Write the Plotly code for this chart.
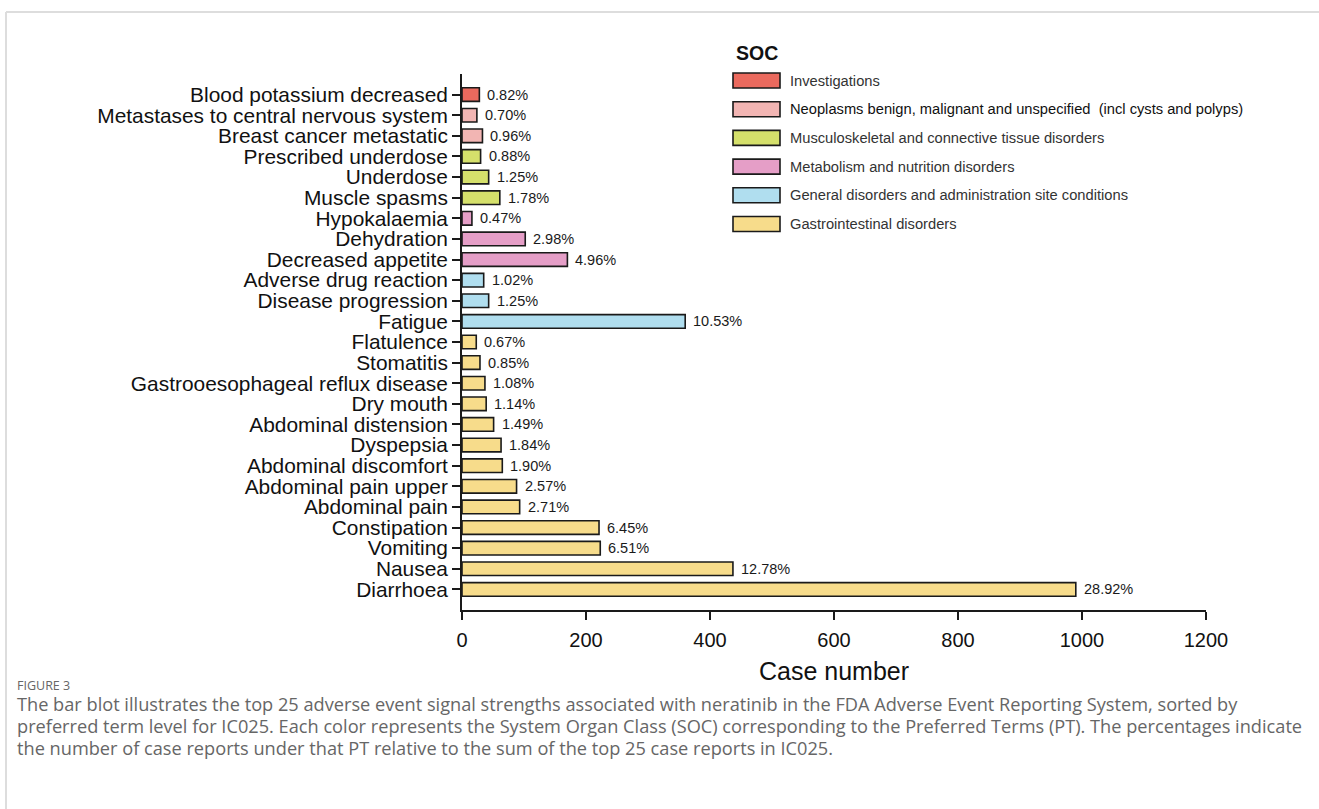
import plotly.graph_objects as go

# Preferred terms, bottom to top, with their SOC group, case counts and share of the top-25 total
terms = [
    "Diarrhoea", "Nausea", "Vomiting", "Constipation", "Abdominal pain",
    "Abdominal pain upper", "Abdominal discomfort", "Dyspepsia", "Abdominal distension",
    "Dry mouth", "Gastrooesophageal reflux disease", "Stomatitis", "Flatulence",
    "Fatigue", "Disease progression", "Adverse drug reaction",
    "Decreased appetite", "Dehydration", "Hypokalaemia",
    "Muscle spasms", "Underdose", "Prescribed underdose",
    "Breast cancer metastatic", "Metastases to central nervous system",
    "Blood potassium decreased",
]
soc_of_term = [
    "Gastrointestinal disorders"] * 13 + [
    "General disorders and administration site conditions"] * 3 + [
    "Metabolism and nutrition disorders"] * 3 + [
    "Musculoskeletal and connective tissue disorders"] * 3 + [
    "Neoplasms benign, malignant and unspecified  (incl cysts and polyps)"] * 2 + [
    "Investigations",
]
case_counts = [
    990, 437, 223, 221, 93,
    88, 65, 63, 51,
    39, 37, 29, 23,
    360, 43, 35,
    170, 102, 16,
    61, 43, 30,
    33, 24,
    28,
]
pct_labels = [
    "28.92%", "12.78%", "6.51%", "6.45%", "2.71%",
    "2.57%", "1.90%", "1.84%", "1.49%",
    "1.14%", "1.08%", "0.85%", "0.67%",
    "10.53%", "1.25%", "1.02%",
    "4.96%", "2.98%", "0.47%",
    "1.78%", "1.25%", "0.88%",
    "0.96%", "0.70%",
    "0.82%",
]

# SOC legend order (top to bottom) and fill colours
soc_names = [
    "Investigations",
    "Neoplasms benign, malignant and unspecified  (incl cysts and polyps)",
    "Musculoskeletal and connective tissue disorders",
    "Metabolism and nutrition disorders",
    "General disorders and administration site conditions",
    "Gastrointestinal disorders",
]
soc_colors = ["#EB6A5E", "#F2B5B3", "#D5E06B", "#E59EC7", "#B0DEEF", "#F7DC8B"]
soc_text_colors = ["#333333", "#111111", "#333333", "#333333", "#333333", "#333333"]

x_ticks = [0, 200, 400, 600, 800, 1000, 1200]

color_map = dict(zip(soc_names, soc_colors))
bar_colors = [color_map[s] for s in soc_of_term]

# Page size and plot-area box in pixels
W, H = 1319, 809
PL, PR, PT, PB = 462, 1206, 74, 610


def px(xp):
    """Page x pixel -> paper fraction of the plot area."""
    return (xp - PL) / (PR - PL)


def py(yp):
    """Page y pixel (from top) -> paper fraction of the plot area."""
    return (PB - yp) / (PB - PT)


fig = go.Figure()
fig.add_trace(go.Bar(
    x=case_counts,
    y=list(range(len(terms))),
    orientation="h",
    width=0.66,
    marker=dict(color=bar_colors, line=dict(color="#1a1a1a", width=1.6)),
    showlegend=False,
    hoverinfo="skip",
))

# Percentage labels just past each bar end
annotations = []
for i, (cnt, lab) in enumerate(zip(case_counts, pct_labels)):
    annotations.append(dict(
        x=cnt, y=i, xref="x", yref="y", text=lab, showarrow=False,
        xanchor="left", yanchor="middle", xshift=6,
        font=dict(family="Liberation Sans, Arial", size=14.5, color="#1a1a1a"),
    ))

# SOC legend: title plus wide swatches
legend_x0, legend_x1 = 733, 780
legend_y0, legend_step = 80.5, 28.7
shapes = []
annotations.append(dict(
    x=px(734), y=py(53), xref="paper", yref="paper", text="<b>SOC</b>",
    showarrow=False, xanchor="left", yanchor="middle",
    font=dict(family="Liberation Sans, Arial", size=19.5, color="#111111"),
))
for k, (name, col) in enumerate(zip(soc_names, soc_colors)):
    yc = legend_y0 + k * legend_step
    shapes.append(dict(
        type="rect", xref="paper", yref="paper",
        x0=px(legend_x0), x1=px(legend_x1),
        y0=py(yc - 7.5), y1=py(yc + 7.5),
        fillcolor=col, line=dict(color="#1a1a1a", width=1.6),
    ))
    annotations.append(dict(
        x=px(788), y=py(yc), xref="paper", yref="paper", text=name,
        showarrow=False, xanchor="left", yanchor="middle",
        font=dict(family="Liberation Sans, Arial", size=14.7, color=soc_text_colors[k]),
    ))

# Card frame lines (top and left edges)
shapes.append(dict(type="line", xref="paper", yref="paper",
                   x0=px(6), x1=px(W + 5), y0=py(12), y1=py(12),
                   line=dict(color="#dddddd", width=2)))
shapes.append(dict(type="line", xref="paper", yref="paper",
                   x0=px(6), x1=px(6), y0=py(12), y1=py(H + 5),
                   line=dict(color="#dddddd", width=2)))

# Figure caption
cap_font = "Open Sans, Lato, sans-serif"
annotations.append(dict(
    x=px(15), y=py(685), xref="paper", yref="paper", text="FIGURE 3",
    showarrow=False, xanchor="left", yanchor="middle",
    font=dict(family=cap_font, size=12.5, color="#666666"),
))
caption_lines = [
    "The bar blot illustrates the top 25 adverse event signal strengths associated with neratinib in the FDA Adverse Event Reporting System, sorted by",
    "preferred term level for IC025. Each color represents the System Organ Class (SOC) corresponding to the Preferred Terms (PT). The percentages indicate",
    "the number of case reports under that PT relative to the sum of the top 25 case reports in IC025.",
]
for j, line in enumerate(caption_lines):
    annotations.append(dict(
        x=px(15), y=py(704 + 22 * j), xref="paper", yref="paper", text=line,
        showarrow=False, xanchor="left", yanchor="middle",
        font=dict(family=cap_font, size=18.2, color="#666666"),
    ))

fig.update_layout(
    width=W, height=H,
    margin=dict(l=PL, r=W - PR, t=PT, b=H - PB),
    paper_bgcolor="white", plot_bgcolor="white",
    annotations=annotations, shapes=shapes,
    xaxis=dict(
        range=[0, 1200], tickvals=x_ticks, ticktext=[str(v) for v in x_ticks],
        showline=True, linecolor="#1a1a1a", linewidth=1.8,
        ticks="outside", ticklen=8, tickwidth=1.8, tickcolor="#1a1a1a",
        showgrid=False, zeroline=False, ticklabelstandoff=3,
        tickfont=dict(family="Liberation Sans, Arial", size=20, color="#111111"),
        title=dict(text="Case number", standoff=13,
                   font=dict(family="Liberation Sans, Arial", size=25, color="#111111")),
    ),
    yaxis=dict(
        range=[-1, 25], tickvals=list(range(len(terms))), ticktext=terms,
        showline=True, linecolor="#1a1a1a", linewidth=1.8,
        ticks="outside", ticklen=8, tickwidth=1.8, tickcolor="#1a1a1a",
        showgrid=False, zeroline=False,
        tickfont=dict(family="Liberation Sans, Arial", size=20.9, color="#111111"),
    ),
)

fig.write_html("out.html")
